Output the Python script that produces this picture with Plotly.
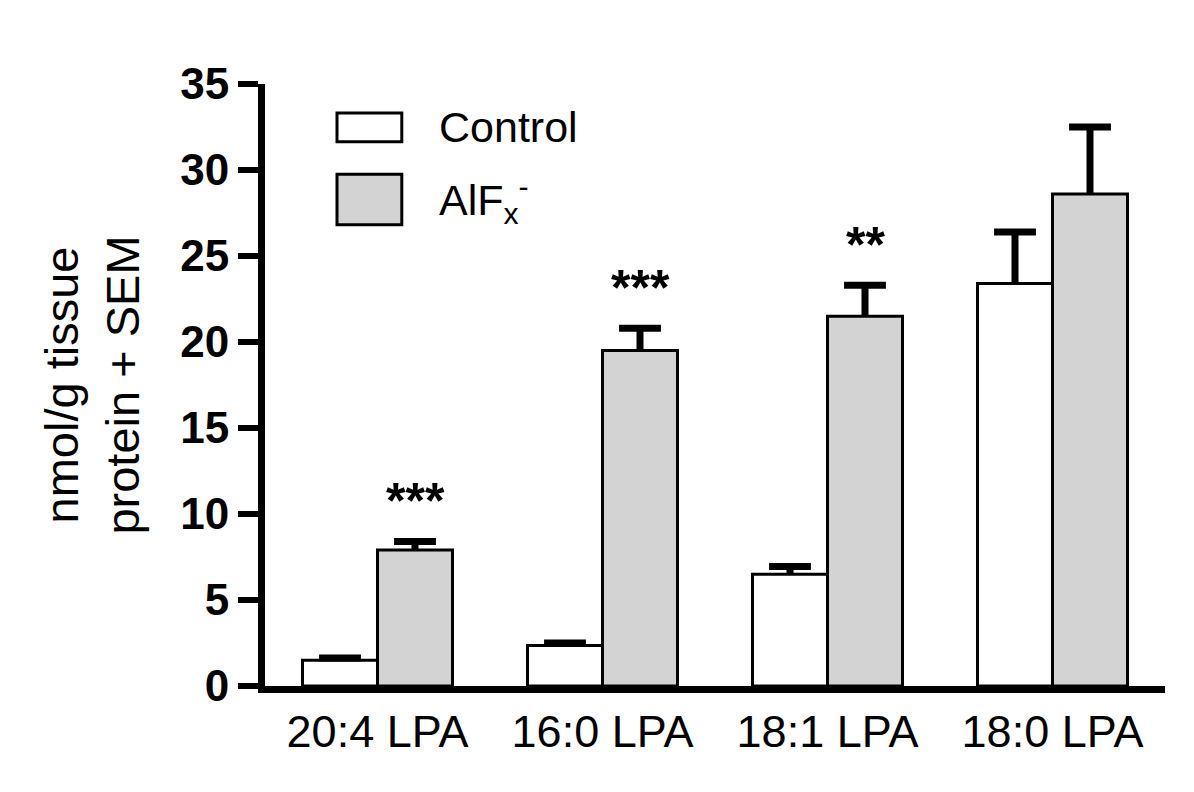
import plotly.graph_objects as go

categories = ["20:4 LPA", "16:0 LPA", "18:1 LPA", "18:0 LPA"]
control_vals = [1.5, 2.35, 6.5, 23.4]
control_err = [0.13, 0.15, 0.45, 3.0]
alf_vals = [7.9, 19.5, 21.5, 28.6]
alf_err = [0.5, 1.3, 1.8, 3.9]
stars = ["***", "***", "**", ""]
y_ticks = [0, 5, 10, 15, 20, 25, 30, 35]

FONT = "Liberation Sans, Arial, sans-serif"
BAR_W = 1 / 3          # each bar is a third of a category slot
CAP_HW = 0.093         # half-width of error-bar caps (x units)

pos = list(range(len(categories)))
ctrl_x = [p - BAR_W / 2 for p in pos]
alf_x = [p + BAR_W / 2 for p in pos]

fig = go.Figure()
fig.add_trace(go.Bar(
    x=ctrl_x, y=control_vals, width=BAR_W, name="Control",
    marker=dict(color="white", line=dict(color="black", width=3)),
))
fig.add_trace(go.Bar(
    x=alf_x, y=alf_vals, width=BAR_W, name="AlFx-",
    marker=dict(color="#d3d3d3", line=dict(color="black", width=3)),
))

# upper-only SEM error bars (stem + cap), built from the data
def err_path(xs, vals, errs):
    px, py = [], []
    for x, v, e in zip(xs, vals, errs):
        px += [x, x, None, x - CAP_HW, x + CAP_HW, None]
        py += [v, v + e, None, v + e, v + e, None]
    return px, py

for xs, vals, errs in [(ctrl_x, control_vals, control_err), (alf_x, alf_vals, alf_err)]:
    ex, ey = err_path(xs, vals, errs)
    fig.add_trace(go.Scatter(x=ex, y=ey, mode="lines", hoverinfo="skip",
                             line=dict(color="black", width=7), showlegend=False))

# significance stars above AlFx bars
for x, v, e, s in zip(alf_x, alf_vals, alf_err, stars):
    if s:
        fig.add_annotation(x=x, y=v + e + 2.75, text=s, showarrow=False,
                           yanchor="middle", yshift=-7,
                           font=dict(family=FONT, size=50, color="black", weight="bold"))

# legend drawn manually (large swatches)
fig.add_shape(type="rect", xref="paper", yref="paper", x0=0.080, x1=0.152, y0=0.904, y1=0.952,
              line=dict(color="black", width=3), fillcolor="white")
fig.add_shape(type="rect", xref="paper", yref="paper", x0=0.080, x1=0.152, y0=0.766, y1=0.850,
              line=dict(color="black", width=3), fillcolor="#d3d3d3")
fig.add_annotation(xref="paper", yref="paper", x=0.191, y=0.928, text="Control",
                   showarrow=False, xanchor="left", yanchor="middle",
                   font=dict(family=FONT, size=43, color="black"))
fig.add_annotation(xref="paper", yref="paper", x=0.191, y=0.808, text="AlF<sub>x</sub><sup>-</sup>",
                   showarrow=False, xanchor="left", yanchor="middle",
                   font=dict(family=FONT, size=43, color="black"))

# page body has an 8px default margin; offset margins to compensate
fig.update_layout(
    width=1194, height=792,
    margin=dict(l=257, r=37, t=76, b=114),
    paper_bgcolor="white", plot_bgcolor="white",
    barmode="overlay",
    showlegend=False,
    font=dict(family=FONT, color="black"),
)
fig.update_xaxes(
    range=[-0.5, len(categories) - 0.5], tickvals=pos, ticktext=categories,
    showline=True, linecolor="black", linewidth=7, ticks="",
    tickfont=dict(family=FONT, size=45, color="black"),
    showgrid=False, zeroline=False,
)
fig.update_yaxes(
    range=[0, 35], tickvals=y_ticks,
    showline=True, linecolor="black", linewidth=7,
    ticks="outside", ticklen=20, tickwidth=6, tickcolor="black",
    tickfont=dict(family=FONT, size=44, color="black", weight="bold"),
    showgrid=False, zeroline=False,
    title=dict(text="nmol/g tissue<br>protein + SEM", standoff=28,
               font=dict(family=FONT, size=47, color="black")),
)

fig.write_html("out.html")
